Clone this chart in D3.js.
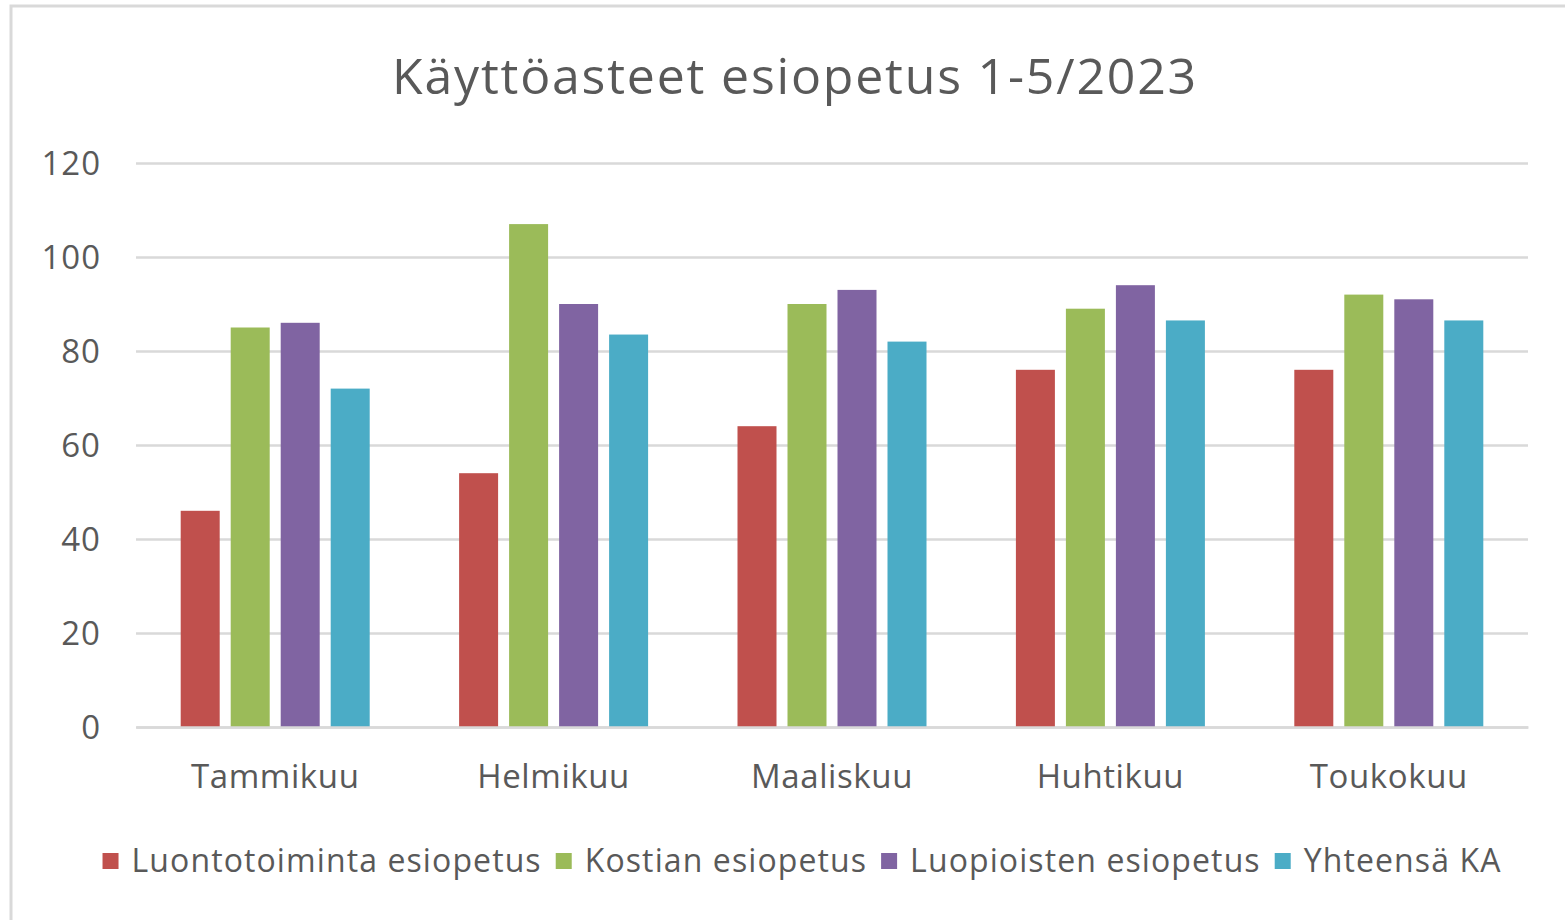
<!DOCTYPE html>
<html>
<head>
<meta charset="utf-8">
<script src="https://cdn.jsdelivr.net/npm/d3@7"></script>
<style>
    body { margin: 0; background: #fff; }
    #chart-area { width: 1565px; height: 920px; }
    text { font-family: "Open Sans", Lato, sans-serif; fill: #595959; }
</style>
</head>
<body>
<div id="chart-area"></div>
<script>
// months on the x axis
const months = ["Tammikuu", "Helmikuu", "Maaliskuu", "Huhtikuu", "Toukokuu"];

// series names (legend order)
const seriesNames = ["Luontotoiminta esiopetus", "Kostian esiopetus", "Luopioisten esiopetus", "Yhteensä KA"];

// values per series, one per month
const luontotoiminta = [46, 54, 64, 76, 76];
const kostia = [85, 107, 90, 89, 92];
const luopioinen = [86, 90, 93, 94, 91];
const yhteensa = [72, 83.5, 82, 86.5, 86.5];

const yTicks = [0, 20, 40, 60, 80, 100, 120];

const seriesColors = ["#c0504d", "#9bbb59", "#8064a2", "#4bacc6"];

class GroupedBarVis {

    constructor(parentElement) {
        this.parentElement = parentElement;
        this.initVis();
    }

    initVis() {
        let vis = this;

        vis.margin = {top: 163, right: 37, bottom: 193, left: 136};
        vis.width = 1565 - vis.margin.left - vis.margin.right;
        vis.height = 920 - vis.margin.top - vis.margin.bottom;

        vis.svg = d3.select("#" + vis.parentElement)
            .append("svg")
            .attr("width", 1565)
            .attr("height", 920);

        // chart frame (only left/top visible in the reference)
        vis.svg.append("rect")
            .attr("x", 11)
            .attr("y", 6)
            .attr("width", 1600)
            .attr("height", 960)
            .attr("fill", "none")
            .attr("stroke", "#d9d9d9")
            .attr("stroke-width", 3);

        vis.svg.append("text")
            .attr("class", "title")
            .attr("x", 795)
            .attr("y", 94)
            .attr("text-anchor", "middle")
            .style("font-size", "50px")
            .style("letter-spacing", "1.8px")
            .text("Käyttöasteet esiopetus 1-5/2023");

        vis.chart = vis.svg.append("g")
            .attr("transform", `translate(${vis.margin.left}, ${vis.margin.top})`);

        vis.xScale = d3.scaleBand()
            .range([0, vis.width])
            .padding(0);

        vis.xInner = d3.scaleBand()
            .paddingInner(0.22)
            .paddingOuter(0.894);

        vis.yScale = d3.scaleLinear()
            .range([vis.height, 0]);

        vis.yAxis = d3.axisLeft()
            .scale(vis.yScale)
            .tickValues(yTicks)
            .tickSize(-vis.width)
            .tickPadding(35);

        vis.xAxis = d3.axisBottom()
            .scale(vis.xScale)
            .tickSize(0)
            .tickPadding(38);

        vis.chart.append("g").attr("class", "y-axis");
        vis.chart.append("g").attr("class", "x-axis")
            .attr("transform", `translate(0, ${vis.height})`);

        vis.legend = vis.svg.append("g").attr("class", "legend");

        this.wrangleData();
    }

    wrangleData() {
        let vis = this;

        const allValues = [luontotoiminta, kostia, luopioinen, yhteensa];

        vis.displayData = months.map((m, i) => ({
            month: m,
            values: seriesNames.map((s, j) => ({series: s, value: allValues[j][i]}))
        }));

        this.updateVis();
    }

    updateVis() {
        let vis = this;

        vis.xScale.domain(months);
        vis.xInner.domain(seriesNames).range([0, vis.xScale.bandwidth()]);
        vis.yScale.domain([0, 120]);

        vis.colorScale = d3.scaleOrdinal()
            .domain(seriesNames)
            .range(seriesColors);

        // gridlines + y labels
        vis.chart.select(".y-axis")
            .call(vis.yAxis)
            .call(g => g.select(".domain").remove())
            .call(g => g.selectAll(".tick line")
                .attr("stroke", "#d9d9d9")
                .attr("stroke-width", 2.5))
            .call(g => g.selectAll(".tick text")
                .style("font-size", "33px")
                .style("letter-spacing", "1px")
                .attr("fill", "#595959")
                .attr("dy", "0.35em"));

        let groups = vis.chart.selectAll(".month-group")
            .data(vis.displayData)
            .enter()
            .append("g")
            .attr("class", "month-group")
            .attr("transform", d => `translate(${vis.xScale(d.month)}, 0)`);

        groups.selectAll("rect")
            .data(d => d.values)
            .enter()
            .append("rect")
            .attr("x", d => vis.xInner(d.series))
            .attr("y", d => vis.yScale(d.value))
            .attr("width", vis.xInner.bandwidth())
            .attr("height", d => vis.height - vis.yScale(d.value))
            .attr("fill", d => vis.colorScale(d.series));

        // baseline drawn over bars like Excel's category axis
        vis.chart.select(".x-axis")
            .raise()
            .call(vis.xAxis)
            .call(g => g.select(".domain")
                .attr("stroke", "#d9d9d9")
                .attr("stroke-width", 2.5))
            .call(g => g.selectAll(".tick text")
                .style("font-size", "33px")
                .style("letter-spacing", "0.6px")
                .attr("fill", "#595959"));

        // legend, laid out left to right and centred
        let items = vis.legend.selectAll(".legend-item")
            .data(seriesNames)
            .enter()
            .append("g")
            .attr("class", "legend-item");

        items.append("rect")
            .attr("width", 16)
            .attr("height", 16)
            .attr("y", -8)
            .attr("fill", d => vis.colorScale(d));

        items.append("text")
            .attr("x", 29)
            .attr("dy", "0.35em")
            .style("font-size", "32px")
            .style("letter-spacing", "1.1px")
            .text(d => d);

        let offset = 0;
        let positions = [];
        items.each(function() {
            positions.push(offset);
            offset += this.getBBox().width + 14;
        });
        let totalW = offset - 14;
        let startX = 802 - totalW / 2;
        items.attr("transform", (d, i) => `translate(${startX + positions[i]}, 861)`);
    }
}

new GroupedBarVis("chart-area");
</script>
</body>
</html>
